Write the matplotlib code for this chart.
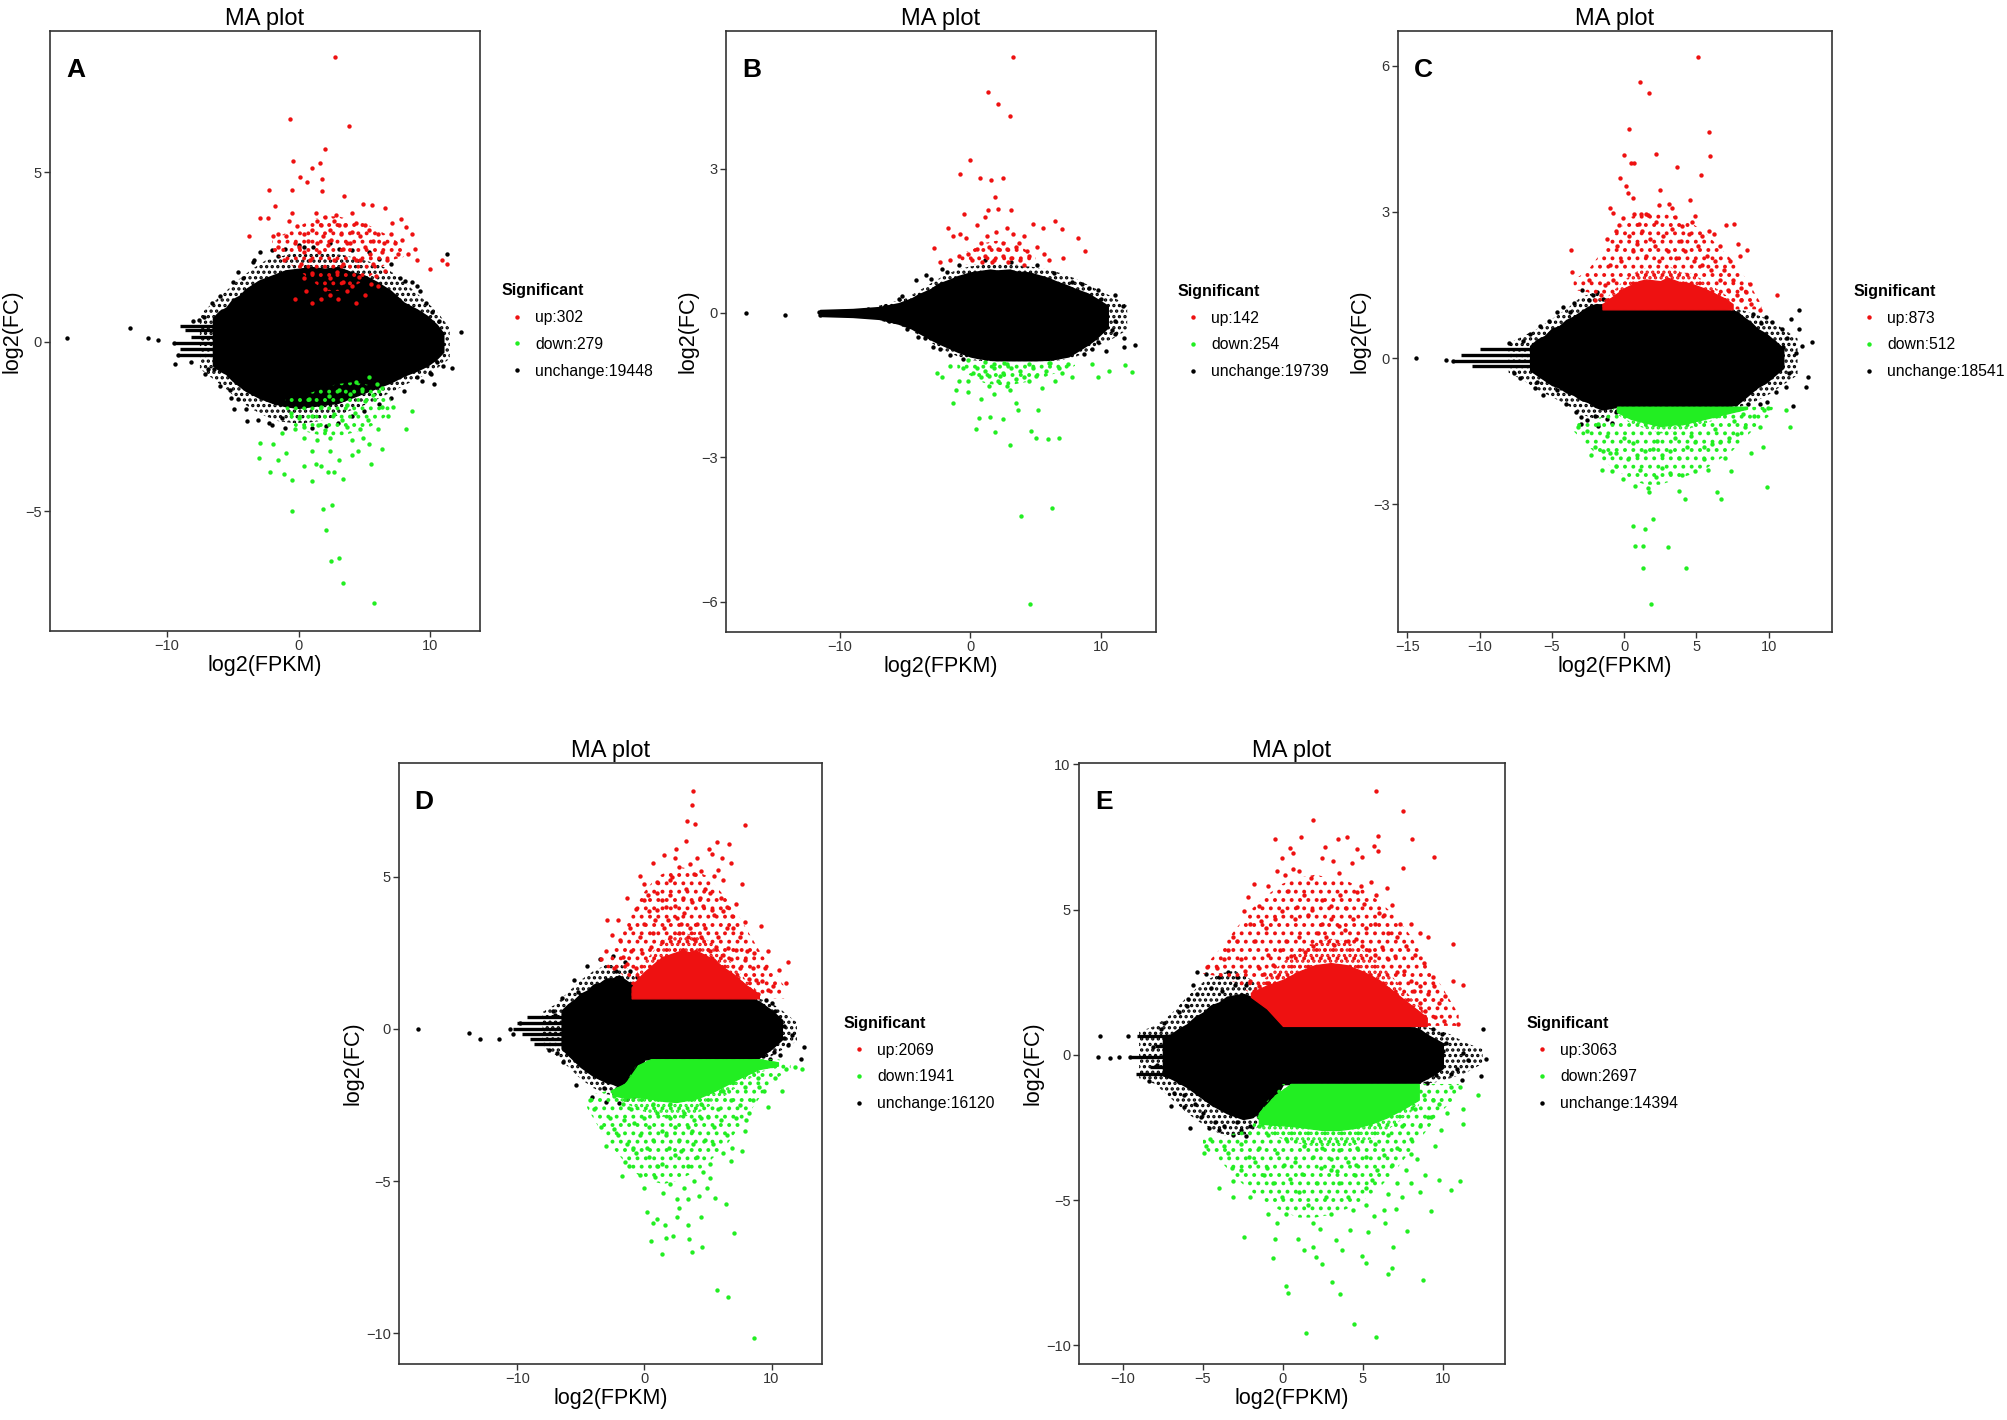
import matplotlib
matplotlib.use("Agg")
import matplotlib.pyplot as plt
from matplotlib.lines import Line2D
from matplotlib.patches import Polygon
import numpy as np

plt.rcParams['font.family'] = ['Liberation Sans', 'DejaVu Sans']
plt.rcParams['hatch.linewidth'] = 1.6

RED = '#ee1111'
GREEN = '#22ee22'
BLACK = '#000000'
W, H = 2008, 1420

# ---------------------------------------------------------------- panel A
A_counts = [302, 279, 19448]
A_xlim = (-18.9, 13.8)
A_ylim = (-8.54, 9.17)
A_xticks = [-10, 0, 10]
A_yticks = [-5, 0, 5]
# dense black core (x, upper edge, lower edge)
A_core_x = [-6.5, -6, -5.5, -5, -4.5, -4, -3, -2, -1, 0, 1, 2, 3, 4, 5, 6, 7, 8, 9, 9.8, 10.5, 11]
A_core_top = [0.7, 0.9, 1.0, 1.25, 1.35, 1.55, 1.8, 1.95, 2.1, 2.15, 2.2, 2.15, 2.2, 2.05, 1.95, 1.75, 1.5, 1.15, 0.95, 0.75, 0.5, 0.25]
A_core_bot = [-0.7, -0.85, -0.95, -1.15, -1.3, -1.45, -1.65, -1.8, -1.9, -1.95, -1.9, -1.85, -1.8, -1.65, -1.5, -1.35, -1.2, -1.0, -0.85, -0.7, -0.5, -0.3]
# looser fringe of the same groups (x, upper edge, lower edge)
A_black_halo = ([-7.5, -6.5, -5.5, -4.5, -3.5, -2.5, -1.5, -0.5, 0.5, 1.5, 2.5, 3.5, 4.5, 5.5, 6.5, 7.5, 8.5, 9.5, 10.5, 11.5],
                [0.8, 1.15, 1.5, 1.85, 2.15, 2.4, 2.5, 2.6, 2.6, 2.65, 2.6, 2.55, 2.45, 2.35, 2.2, 1.95, 1.6, 1.25, 0.9, 0.4],
                [-0.8, -1.1, -1.4, -1.75, -2.0, -2.2, -2.35, -2.4, -2.4, -2.35, -2.25, -2.1, -1.95, -1.8, -1.6, -1.4, -1.2, -1.0, -0.8, -0.5])
A_red_halo = ([-2, -1, 0, 1, 2, 3, 4, 5, 6, 7, 8],
              [3.0, 3.2, 3.4, 3.6, 3.7, 3.7, 3.6, 3.5, 3.3, 3.1, 2.8],
              [2.6, 2.4, 2.1, 1.8, 1.5, 1.5, 1.6, 1.8, 2.1, 2.4, 2.5])
A_green_halo = ([-1, 0, 1, 2, 3, 4, 5, 6, 7],
                [-1.7, -1.6, -1.5, -1.35, -1.25, -1.2, -1.25, -1.35, -1.6],
                [-2.3, -2.6, -2.7, -2.8, -2.8, -2.7, -2.6, -2.4, -2.1])
# horizontal runs of low-count genes (y, x start, x end)
A_streaks = [(0.46, -9.0, -6.2), (0.33, -8.6, -6.2), (0.15, -8.2, -6.2),
             (-0.05, -9.5, -6.2), (-0.22, -9.0, -6.2), (-0.38, -9.2, -6.2)]
A_black = [(-17.6, 0.1), (-12.85, 0.4), (-11.46, 0.1), (-10.7, 0.04), (-9.5, -0.03), (-9.37, -0.66),
           (-9.2, -0.4), (12.38, 0.29), (11.66, -0.77), (11.26, 2.6), (10.0, -0.92), (10.33, -1.24),
           (11.0, -0.73), (10.83, 0.1), (10.66, 0.61), (-2.91, 2.66), (-3.41, 2.4), (-4.24, 1.89),
           (-4.9, -2.0), (-3.9, -2.33), (-2.25, -2.39), (-1.26, -2.26), (0.4, -1.94), (-6.56, 1.13),
           (-6.4, -0.8), (-7.2, 0.74), (-6.9, -0.8), (-5.23, -1.43), (-4.57, -1.69), (7.0, 2.28),
           (7.68, 1.89), (9.0, 1.64), (9.67, 1.13), (10.17, 0.87), (9.5, -0.41), (10.5, -0.6),
           (9.0, -1.05), (5.36, 2.66), (0.4, 2.79), (-1.59, 2.53), (2.38, 2.92), (-2.0, 2.7),
           (-1.0, 2.75), (0.0, 2.85), (1.1, 2.8), (3.1, 2.75), (4.1, 2.7), (6.1, 2.45),
           (8.1, 1.8), (9.2, 1.5), (-5.0, 1.75), (-6.0, 1.35), (-7.6, 0.65),
           (-7.1, -0.95), (-6.0, -1.3), (-5.1, -1.65), (-4.0, -2.0), (-3.1, -2.3), (-2.0, -2.45),
           (-1.0, -2.55), (1.0, -2.55), (2.1, -2.5), (3.0, -2.4), (4.1, -2.2),
           (5.0, -2.05), (6.1, -1.85), (7.0, -1.65), (8.0, -1.45), (9.4, -1.15), (10.1, -0.95),
           (-3.5, 2.35), (-4.6, 2.05), (8.6, 1.75), (9.8, 0.55), (-8.0, 0.6), (-8.2, -0.6)]
A_red = [(2.81, 8.41), (-0.66, 6.56), (3.87, 6.37), (1.99, 5.7), (-0.43, 5.32), (0.99, 5.13),
         (1.62, 5.26), (0.1, 4.87), (0.66, 4.71), (1.75, 4.8), (1.75, 4.45), (-2.22, 4.49),
         (-0.46, 4.48), (3.48, 4.31), (-1.79, 4.0), (4.87, 4.07), (5.6, 4.04), (6.59, 3.95),
         (-2.91, 3.64), (-2.35, 3.64), (-0.5, 3.79), (7.78, 3.62), (8.18, 3.39), (-3.74, 3.11),
         (8.61, 3.17), (7.12, 3.5), (8.84, 2.75), (9.0, 2.4), (10.0, 2.15), (10.93, 2.4), (11.3, 2.28),
         (-1.59, 3.17), (-0.93, 3.11), (-0.26, 2.92), (0.07, 2.79), (0.4, 3.17), (0.73, 2.98),
         (1.06, 3.3), (1.39, 3.55), (1.72, 3.43), (1.89, 3.11), (2.22, 2.85), (2.38, 3.3),
         (2.72, 3.55), (2.88, 3.75), (3.21, 3.17), (3.54, 3.43), (3.7, 2.92), (4.04, 3.24),
         (4.37, 3.49), (4.7, 3.11), (5.03, 2.79), (5.36, 3.3), (5.7, 2.98), (6.03, 3.17),
         (6.36, 2.66), (6.69, 2.4), (7.02, 3.17), (7.35, 2.92), (0.89, 2.4), (1.56, 2.66),
         (2.72, 2.4), (3.38, 2.28), (4.37, 2.4), (5.7, 2.28), (0.4, 1.89), (1.06, 2.02),
         (2.38, 1.89), (3.38, 1.76), (4.04, 1.64), (1.72, 1.25), (2.38, 1.38), (3.7, 1.51),
         (5.03, 1.38), (6.03, 1.64), (-0.26, 1.25), (1.06, 1.13), (-1.09, 2.4), (-1.59, 2.79),
         (-1.92, 3.11), (-0.76, 3.55), (0.4, 2.66), (4.7, 2.4), (2.05, 3.68), (4.04, 3.81),
         (3.05, 3.43), (1.39, 2.92), (5.03, 3.43), (2.5, 3.0), (3.9, 2.9), (6.5, 2.9), (7.6, 2.6),
         (5.4, 2.6), (1.3, 3.8), (3.4, 2.75), (-0.1, 3.4), (7.9, 3.0), (8.3, 2.6), (0.2, 2.3),
         (2.9, 2.05), (4.6, 1.9), (5.9, 1.95), (6.6, 2.1), (3.0, 1.25), (4.4, 1.15), (0.6, 1.5),
         (2.0, 1.55), (5.5, 1.7)]
A_green = [(8.6, -2.05), (8.18, -2.58), (7.19, -1.94), (6.36, -1.94), (6.36, -3.16), (5.53, -3.6),
           (5.36, -3.03), (4.54, -3.22), (4.04, -2.9), (3.38, -4.05), (2.72, -3.86), (2.22, -3.86),
           (1.72, -3.67), (0.99, -4.12), (1.32, -3.6), (0.4, -3.67), (-0.53, -4.09), (-1.09, -3.9),
           (-1.59, -3.48), (-0.93, -3.29), (-1.92, -3.03), (-2.19, -3.86), (-2.91, -2.99),
           (-2.98, -3.44), (-0.5, -5.01), (1.89, -4.95), (2.55, -4.82), (2.12, -5.55), (3.05, -6.39),
           (2.45, -6.48), (3.38, -7.12), (5.76, -7.72), (0.4, -2.84), (2.38, -2.84), (-0.26, -2.58),
           (3.7, -2.52), (4.7, -2.58), (6.03, -2.58), (1.06, -2.2), (2.72, -2.14), (1.72, -1.94),
           (3.7, -1.88), (5.03, -1.75), (5.7, -1.56), (6.36, -1.37), (3.05, -1.43), (4.37, -1.18),
           (5.36, -1.05), (0.4, -2.52), (0.07, -2.26), (-1.26, -2.71), (1.06, -3.22), (4.04, -3.35),
           (3.05, -3.48), (2.38, -3.22), (1.5, -2.45), (2.0, -2.6), (3.3, -2.3), (4.3, -2.1),
           (5.3, -2.3), (6.8, -2.2), (0.8, -1.7), (2.3, -1.6), (3.9, -1.55), (-0.6, -2.1),
           (1.4, -2.9), (4.9, -2.85), (6.0, -1.25), (4.8, -1.4)]

# ---------------------------------------------------------------- panel B
B_counts = [142, 254, 19739]
B_xlim = (-18.7, 14.2)
B_ylim = (-6.63, 5.86)
B_xticks = [-10, 0, 10]
B_yticks = [-6, -3, 0, 3]
B_core_x = [-11.5, -9, -7, -5.5, -4.5, -4, -3, -2.5, -1.5, -1, 0, 0.5, 1.5, 2, 3, 3.5, 4.5, 5, 6, 6.5, 7.5, 8, 9, 9.5, 10.5]
B_core_top = [0.06, 0.08, 0.12, 0.2, 0.3, 0.38, 0.5, 0.6, 0.7, 0.76, 0.84, 0.86, 0.9, 0.88, 0.9, 0.86, 0.84, 0.8, 0.72, 0.66, 0.56, 0.5, 0.4, 0.32, 0.15]
B_core_bot = [-0.06, -0.08, -0.12, -0.22, -0.32, -0.4, -0.55, -0.62, -0.74, -0.8, -0.9, -0.93, -0.97, -0.98, -0.98, -0.98, -0.98, -0.98, -0.97, -0.95, -0.9, -0.82, -0.65, -0.55, -0.3]
B_black_halo = ([-7, -5, -4, -3, -2, -1, 0, 1, 2, 3, 4, 5, 6, 7, 8, 9, 10, 11, 12],
                [0.15, 0.3, 0.45, 0.62, 0.78, 0.9, 0.97, 1.0, 1.0, 1.0, 0.98, 0.95, 0.9, 0.82, 0.72, 0.58, 0.45, 0.32, 0.15],
                [-0.15, -0.3, -0.45, -0.62, -0.78, -0.9, -0.98, -1.0, -1.0, -1.0, -1.0, -1.0, -1.0, -0.98, -0.92, -0.8, -0.65, -0.52, -0.35])
B_red_halo = ([-1, 0, 1, 2, 3, 4, 5],
              [1.2, 1.3, 1.45, 1.5, 1.45, 1.35, 1.2],
              [1.02, 1.0, 1.0, 1.0, 1.0, 1.0, 1.02])
B_green_halo = ([-1, 0, 1, 2, 3, 4, 5, 6, 7, 8],
                [-1.0, -1.0, -1.0, -1.0, -1.0, -1.0, -1.0, -1.0, -1.0, -1.0],
                [-1.15, -1.3, -1.45, -1.5, -1.5, -1.45, -1.4, -1.3, -1.2, -1.1])
B_streaks = []
B_black = [(-17.2, 0.0), (-14.15, -0.05), (-11.6, 0.02), (-11.5, -0.05), (11.7, 0.15), (12.6, -0.66),
           (11.76, -0.52), (11.1, -0.43), (-4.2, 0.69), (-3.36, 0.78), (-5.5, 0.29), (-2.2, 0.92),
           (-0.86, 1.0), (1.13, 1.1), (3.1, 1.05), (5.1, 1.0), (6.4, 0.83), (7.8, 0.65), (9.1, 0.51),
           (9.8, 0.47), (11.1, 0.38), (10.4, 0.0), (11.1, -0.16), (11.76, -0.7), (10.4, -0.79),
           (9.8, -0.61), (-3.5, -0.52), (-2.86, -0.7), (-1.53, -0.88), (-4.85, -0.34), (-6.2, -0.16),
           (-6.5, 0.15), (-7.8, 0.09), (-3.0, 0.7), (-1.8, 0.85), (8.5, 0.6), (10.0, 0.3),
           (-2.3, -0.75), (-0.6, -0.95), (8.7, -0.85), (9.3, -0.75), (10.8, -0.35), (-4.0, -0.5),
           (-5.2, 0.35)]
B_red = [(3.29, 5.32), (1.33, 4.59), (2.13, 4.34), (3.02, 4.09), (0.0, 3.17), (-0.76, 2.89),
         (0.73, 2.8), (1.6, 2.76), (2.49, 2.8), (1.89, 2.41), (2.13, 2.17), (3.09, 2.14), (1.33, 2.14),
         (-0.47, 2.05), (-1.33, 1.59), (-1.69, 1.77), (-2.79, 1.35), (-2.33, 1.05), (-0.83, 1.64),
         (-0.37, 1.55), (0.47, 1.82), (1.13, 2.0), (1.96, 1.68), (2.79, 1.77), (3.29, 1.64),
         (4.12, 1.59), (4.78, 1.84), (5.55, 1.76), (6.51, 1.91), (7.0, 1.75), (8.27, 1.55),
         (8.77, 1.28), (7.1, 1.14), (5.6, 1.23), (5.1, 1.37), (4.45, 1.19), (3.8, 1.1), (3.1, 1.14),
         (2.46, 1.19), (1.8, 1.1), (1.13, 1.19), (0.47, 1.32), (-0.2, 1.23), (-0.86, 1.19),
         (-1.53, 1.1), (0.8, 1.46), (1.46, 1.37), (2.13, 1.32), (2.79, 1.32), (3.46, 1.37),
         (4.3, 1.28), (2.46, 1.46), (1.3, 1.59), (1.63, 1.05), (4.12, 1.0), (0.13, 1.1), (6.0, 1.1),
         (3.7, 1.45), (2.9, 1.05), (0.9, 1.05)]
B_green = [(4.55, -6.04), (3.89, -4.22), (6.21, -4.05), (3.02, -2.75), (5.0, -2.59), (5.95, -2.62),
           (6.78, -2.59), (4.65, -2.46), (1.86, -2.48), (0.4, -2.41), (0.63, -2.19), (1.53, -2.17),
           (2.46, -2.21), (3.46, -1.87), (3.62, -2.01), (5.2, -2.01), (-1.3, -1.87), (-0.2, -1.65),
           (-1.13, -1.6), (-2.19, -1.33), (-2.52, -1.24), (-0.86, -1.42), (-0.2, -1.42), (0.8, -1.33),
           (1.46, -1.51), (2.13, -1.42), (2.79, -1.51), (3.46, -1.38), (4.45, -1.42), (5.45, -1.56),
           (6.45, -1.42), (7.77, -1.33), (9.27, -1.06), (9.77, -1.33), (10.6, -1.2), (11.83, -1.08),
           (12.36, -1.23), (0.47, -1.15), (1.13, -1.2), (1.8, -1.15), (2.46, -1.24), (3.12, -1.15),
           (3.79, -1.2), (4.78, -1.15), (5.78, -1.2), (6.78, -1.15), (-0.53, -1.15), (-1.53, -1.11),
           (1.13, -1.02), (2.79, -1.06), (4.45, -1.06), (6.11, -1.05), (7.44, -1.06), (-0.2, -0.97),
           (1.8, -1.06), (4.12, -1.33), (1.8, -1.69), (0.8, -1.78), (2.3, -1.3), (3.0, -1.6),
           (5.0, -1.3), (6.0, -1.05), (7.0, -1.25), (0.2, -1.25), (1.4, -1.3), (2.6, -1.05)]

# ---------------------------------------------------------------- panel C
C_counts = [873, 512, 18541]
C_xlim = (-15.65, 14.38)
C_ylim = (-5.62, 6.71)
C_xticks = [-15, -10, -5, 0, 5, 10]
C_yticks = [-3, 0, 3, 6]
C_core_x = [-6.5, -6, -5.5, -5, -4.5, -4, -3.5, -3, -2.5, -2, -1.5, -0.5, 1, 3, 5, 7, 7.8, 8.2, 8.8, 9.2, 9.8, 10.2, 11]
C_core_top = [0.25, 0.38, 0.45, 0.6, 0.65, 0.78, 0.85, 0.95, 1.05, 1.1, 1.1, 1.0, 1.0, 1.0, 1.0, 1.0, 0.95, 0.85, 0.72, 0.6, 0.5, 0.4, 0.2]
C_core_bot = [-0.25, -0.35, -0.45, -0.55, -0.6, -0.7, -0.75, -0.85, -0.9, -1.0, -1.05, -1.0, -1.0, -1.0, -1.0, -1.0, -0.95, -0.85, -0.7, -0.6, -0.5, -0.4, -0.2]
C_black_halo = ([-8, -7, -6, -5, -4, -3, -2, -1, 0, 8, 9, 10, 11, 12],
                [0.3, 0.45, 0.6, 0.8, 1.0, 1.25, 1.35, 1.2, 1.0, 1.0, 0.9, 0.8, 0.6, 0.4],
                [-0.3, -0.45, -0.65, -0.8, -0.95, -1.15, -1.25, -1.2, -1.0, -1.0, -0.9, -0.75, -0.55, -0.35])
C_red_core = ([-1.5, -1, 0, 1, 1.5, 2.5, 3, 4, 4.5, 5.5, 6, 7, 7.5],
              [1.15, 1.3, 1.6, 1.8, 1.85, 1.8, 1.9, 1.75, 1.75, 1.6, 1.5, 1.3, 1.15])
C_green_core = ([-0.5, 0.5, 1, 2, 2.5, 3.5, 4, 5, 5.5, 6.5, 7, 8, 8.5],
                [-1.15, -1.35, -1.4, -1.5, -1.55, -1.5, -1.5, -1.4, -1.35, -1.25, -1.2, -1.1, -1.05])
C_red_halo = ([-3.5, -2.5, -1.5, -0.5, 0.5, 1.5, 2.5, 3.5, 4.5, 5.5, 6.5, 7.5, 8.5, 9.5],
              [1.6, 1.8, 2.2, 2.6, 2.9, 3.0, 3.0, 2.9, 2.8, 2.6, 2.3, 2.0, 1.6, 1.1],
              [1.4, 1.35, 1.15, 1.0, 1.0, 1.0, 1.0, 1.0, 1.0, 1.0, 1.0, 1.0, 1.0, 1.0])
C_green_halo = ([-3.5, -2.5, -1.5, -0.5, 0.5, 1.5, 2.5, 3.5, 4.5, 5.5, 6.5, 7.5, 8.5, 9.5, 10.5],
                [-1.3, -1.3, -1.2, -1.0, -1.0, -1.0, -1.0, -1.0, -1.0, -1.0, -1.0, -1.0, -1.0, -1.0, -1.0],
                [-1.5, -1.8, -2.1, -2.3, -2.5, -2.6, -2.6, -2.5, -2.4, -2.3, -2.1, -1.9, -1.6, -1.3, -1.1])
C_streaks = [(0.19, -10.0, -6.0), (0.07, -11.3, -6.0), (-0.05, -11.8, -6.0), (-0.17, -10.5, -6.0)]
C_black = [(-14.4, 0.0), (-11.85, -0.05), (-12.3, -0.04), (12.1, 0.99), (13.0, 0.32), (12.7, -0.39),
           (12.57, -0.6), (11.7, -0.99), (12.1, 0.59), (11.56, 0.81), (11.27, 0.41), (11.0, 0.23),
           (10.4, 0.32), (10.7, -0.12), (10.1, -0.39), (11.4, -0.3), (11.9, 0.1), (12.3, 0.25),
           (10.9, 0.6), (10.2, 0.75), (9.8, 0.85), (11.2, -0.6), (10.5, -0.7), (9.9, -0.9),
           (9.4, -0.95), (-2.9, 1.39), (-2.17, 1.3), (-3.47, 1.12), (-1.45, 1.21), (-1.16, 1.03),
           (-3.76, 0.94), (-2.6, -1.28), (-2.02, -1.19), (-1.16, -1.24), (-0.58, -1.1), (-0.87, -1.33),
           (-3.32, -1.1), (-4.62, -0.66), (-6.2, -0.61), (-5.2, 0.77), (-4.62, 0.94), (-6.5, 0.5),
           (-5.8, 0.65), (-7.0, 0.35), (-7.2, -0.4), (-5.6, -0.75), (-4.0, -0.95), (-3.0, -1.2),
           (-4.2, 1.05), (-3.0, -1.35), (8.6, -0.95), (8.9, 0.9), (9.5, 0.72), (-1.8, -1.4),
           (-2.4, 1.2), (-1.9, 1.35), (-6.0, -0.5), (-8.0, 0.3), (-7.6, -0.3)]
C_red = [(5.12, 6.18), (1.1, 5.66), (1.73, 5.44), (0.32, 4.7), (5.84, 4.64), (5.95, 4.15), (-0.03, 4.17),
         (2.2, 4.19), (0.49, 4.0), (0.66, 4.0), (3.67, 3.91), (5.35, 3.75), (-0.32, 3.69), (0.14, 3.53),
         (2.51, 3.44), (0.29, 3.39), (0.64, 3.28), (4.57, 3.24), (3.09, 3.17), (3.32, 3.08),
         (-0.95, 3.08), (-0.78, 2.97), (1.53, 2.95), (2.4, 3.13), (4.91, 2.92), (4.71, 2.8),
         (-0.06, 2.88), (0.66, 2.95), (1.16, 2.95), (1.65, 2.93), (-0.38, 2.72), (7.02, 2.72),
         (7.6, 2.75), (6.21, 2.55), (5.4, 2.5), (-3.67, 2.22), (-3.61, 1.76), (7.89, 2.34),
         (8.53, 2.22), (7.98, 2.1), (8.7, 1.52), (8.09, 1.43), (9.39, 0.99), (10.6, 1.3),
         (-1.3, 1.5), (-1.0, 1.9), (-0.5, 2.3), (-0.2, 2.0), (0.3, 2.5), (0.6, 2.2), (0.9, 2.35),
         (1.2, 2.6), (1.5, 2.1), (1.8, 2.45), (2.1, 2.3), (2.4, 2.0), (2.7, 2.5), (3.0, 2.2),
         (3.3, 2.65), (3.6, 2.05), (3.9, 2.4), (4.2, 2.2), (4.5, 2.55), (4.8, 2.0), (5.1, 2.3),
         (5.4, 1.9), (5.7, 2.1), (6.0, 1.8), (6.3, 2.0), (6.6, 1.6), (6.9, 1.8), (7.2, 1.4),
         (7.5, 1.6), (7.8, 1.3), (8.1, 1.2), (8.4, 1.35), (-1.6, 1.3), (-2.0, 1.2), (-0.8, 1.6),
         (2.2, 2.8), (1.0, 2.75), (4.0, 2.7), (-1.2, 2.45), (-0.6, 2.6), (6.6, 2.3), (7.3, 2.0),
         (8.8, 1.1), (-2.4, 1.6), (5.9, 2.6), (3.5, 2.9)]
C_green = [(1.88, -5.04), (1.33, -4.31), (4.28, -4.31), (0.72, -3.86), (1.33, -3.85), (3.03, -3.88),
           (0.58, -3.45), (1.45, -3.51), (2.02, -3.31), (4.19, -2.89), (3.76, -2.73), (1.73, -2.75),
           (1.68, -2.66), (0.72, -2.62), (-0.06, -2.48), (-0.87, -2.31), (-1.5, -2.29), (-0.58, -2.22),
           (6.45, -2.75), (6.71, -2.89), (9.88, -2.64), (7.37, -2.31), (8.76, -1.95), (9.6, -1.82),
           (9.39, -1.42), (9.97, -1.02), (11.2, -1.06), (11.47, -1.42), (9.68, -1.06), (-3.18, -1.42),
           (-2.6, -1.5), (-2.31, -1.99), (-2.02, -1.82), (-1.45, -1.91), (-0.58, -1.95), (0.29, -2.08),
           (0.87, -1.99), (1.45, -1.91), (2.02, -1.86), (2.6, -1.99), (3.18, -1.91), (3.76, -2.04),
           (4.34, -1.82), (4.91, -1.73), (5.49, -1.82), (6.07, -1.77), (6.65, -1.73), (7.23, -1.64),
           (7.8, -1.55), (8.38, -1.42), (8.96, -1.19), (2.6, -2.26), (3.18, -2.35), (5.49, -2.08),
           (4.91, -2.31), (-1.0, -1.95), (-1.8, -1.35), (-1.2, -1.6), (0.0, -1.65), (0.6, -1.75),
           (2.3, -1.7), (3.5, -1.65), (4.6, -1.6), (6.3, -1.45), (7.6, -1.3), (8.2, -1.15),
           (1.1, -2.3), (2.2, -2.45), (4.0, -2.4), (5.8, -2.3), (7.0, -2.05)]

# ---------------------------------------------------------------- panel D
D_counts = [2069, 1941, 16120]
D_xlim = (-19.3, 13.97)
D_ylim = (-11.01, 8.73)
D_xticks = [-10, 0, 10]
D_yticks = [-10, -5, 0, 5]
D_core_x = [-6.5, -6, -5.5, -5, -4.5, -4, -3.5, -3, -2.5, -2, -1.5, -1, -0.5, 0, 2, 4, 6, 8, 8.5, 9, 9.5, 10, 10.8]
D_core_top = [0.6, 0.8, 0.95, 1.15, 1.25, 1.45, 1.5, 1.65, 1.65, 1.75, 1.6, 1.45, 1.2, 1.0, 1.0, 1.0, 1.0, 1.0, 0.98, 0.9, 0.75, 0.6, 0.3]
D_core_bot = [-0.65, -0.85, -1.05, -1.25, -1.4, -1.55, -1.65, -1.75, -1.8, -1.9, -1.9, -1.75, -1.5, -1.0, -1.0, -1.0, -1.0, -1.0, -0.98, -0.95, -0.8, -0.65, -0.35]
D_black_halo = ([-8, -7, -6, -5, -4, -3, -2, -1, 0, 9, 10, 11, 12],
                [0.55, 0.8, 1.2, 1.6, 1.9, 2.1, 2.15, 1.9, 1.0, 1.0, 0.85, 0.55, 0.2],
                [-0.6, -0.85, -1.25, -1.65, -1.95, -2.15, -2.2, -2.1, -1.0, -1.0, -0.9, -0.65, -0.4])
D_red_core = ([-1, -0.5, 0, 1, 1.5, 2, 3, 3.5, 4, 5, 5.5, 6, 7, 8, 9],
              [1.5, 1.9, 2.2, 2.7, 2.9, 3.0, 3.2, 3.1, 3.2, 2.9, 2.8, 2.5, 2.1, 1.6, 1.2])
D_red_halo = ([-3, -2, -1, 0, 1, 2, 3, 4, 5, 6, 7, 8, 9, 10, 11],
              [2.3, 3.0, 3.8, 4.5, 5.0, 5.2, 5.3, 5.2, 5.0, 4.5, 4.0, 3.3, 2.6, 2.0, 1.4],
              [2.0, 1.9, 1.4, 1.0, 1.0, 1.0, 1.0, 1.0, 1.0, 1.0, 1.0, 1.0, 1.0, 1.0, 1.0])
D_green_core = ([-2.5, -1.5, -0.5, 0.5, 1.5, 2.5, 3, 4, 4.5, 5.5, 6, 7.5, 9, 10.5],
                [-2.25, -2.45, -2.65, -2.8, -2.9, -2.95, -2.9, -2.8, -2.7, -2.45, -2.3, -1.85, -1.45, -1.25])
D_green_top = [-2.0, -1.8, -1.2, -1.0, -1.0, -1.0, -1.0, -1.0, -1.0, -1.0, -1.0, -1.0, -1.0, -1.1]
D_green_halo = ([-4.5, -3.5, -2.5, -1.5, -0.5, 0.5, 1.5, 2.5, 3.5, 4.5, 5.5, 6.5, 7.5, 8.5, 9.5, 10.5, 11.5],
                [-2.2, -2.1, -2.0, -1.8, -1.1, -1.0, -1.0, -1.0, -1.0, -1.0, -1.0, -1.0, -1.0, -1.0, -1.0, -1.0, -1.1],
                [-2.6, -3.3, -3.9, -4.4, -4.8, -5.0, -5.1, -5.0, -4.8, -4.6, -4.2, -3.8, -3.2, -2.6, -2.0, -1.6, -1.3])
D_streaks = [(0.38, -9.2, -6.5), (0.19, -10.0, -6.5), (0.0, -10.3, -6.5),
             (-0.17, -9.6, -6.5), (-0.35, -9.0, -6.5), (-0.49, -8.7, -6.5)]
D_black = [(-17.8, 0.0), (-13.8, -0.14), (-12.95, -0.35), (-11.4, -0.35), (-10.6, 0.0), (-10.3, -0.17),
           (-9.8, 0.2), (12.57, -0.6), (12.33, -1.0), (11.3, -0.53), (10.96, -0.3), (10.6, 0.26),
           (10.3, 0.6), (10.0, 0.85), (9.6, 0.95), (9.3, -0.9), (10.2, -0.75), (9.9, -1.0), (11.0, 0.1),
           (11.6, -0.2), (10.7, -0.85), (-6.5, 1.0), (-5.5, 1.6), (-4.5, 2.05),
           (-3.5, 2.3), (-2.5, 2.4), (-1.5, 2.2), (-6.4, -1.1),
           (-5.38, -1.86), (-4.1, -2.25), (-3.0, -2.4),
           (-2.0, -2.45), (-1.4, -2.3), (-7.2, 0.6), (-7.5, -0.7), (-6.9, -0.8),
           (-1.1, 1.9), (-0.6, 1.7), (-0.8, -2.2), (-0.3, -1.8),
           (3.1, 2.14), (4.6, 1.78), (2.2, -1.6), (5.0, -1.3), (-5.2, 1.2), (-3.2, -1.95),
           (-2.2, 1.9), (-7.0, 0.45)]
D_red = [(3.84, 7.82), (3.77, 7.34), (3.32, 6.84), (4.0, 6.73), (7.95, 6.69), (3.25, 6.18), (2.47, 5.92),
         (5.68, 6.14), (5.07, 5.92), (6.68, 6.07), (1.54, 5.72), (5.3, 5.75), (6.1, 5.61), (0.68, 5.46),
         (2.74, 5.32), (4.45, 5.17), (3.94, 5.1), (-0.34, 5.03), (0.0, 4.74), (1.03, 4.81), (2.05, 4.88),
         (3.25, 4.6), (5.14, 4.45), (7.64, 4.74), (7.19, 4.09), (6.16, 3.87), (1.37, 4.23), (0.34, 3.87),
         (-0.68, 3.95), (-1.37, 4.31), (-2.05, 3.58), (-2.91, 3.58), (-2.57, 3.08), (-2.98, 2.57),
         (-1.88, 2.93), (-3.42, 2.28), (7.88, 3.51), (9.14, 3.37), (9.76, 2.57), (10.6, 1.92),
         (11.3, 2.21), (11.13, 1.49), (9.76, 1.27), (8.9, 1.13), (8.2, 1.63), (8.05, 2.57), (7.53, 3.0),
         (6.5, 3.3), (5.8, 3.0), (5.48, 3.73), (4.62, 4.02), (4.1, 3.44), (3.08, 3.8), (2.4, 4.02),
         (1.88, 3.58), (0.68, 3.15), (0.0, 3.44), (-0.34, 3.0), (-1.03, 2.57), (-1.37, 2.14),
         (-1.71, 2.36), (-0.68, 2.0), (1.37, 2.86), (2.05, 3.0), (2.74, 3.15), (3.42, 3.0), (4.45, 3.0),
         (5.14, 2.57), (6.16, 2.43), (6.85, 2.28), (7.53, 2.0), (8.56, 2.0), (9.25, 1.56), (6.5, 1.71),
         (0.86, 3.58), (1.54, 3.3), (3.77, 4.16), (4.79, 4.6), (2.05, 4.38), (1.03, 4.45), (0.0, 4.23),
         (5.48, 5.03), (6.16, 4.88), (4.1, 5.61), (2.4, 5.61), (6.85, 5.46), (2.9, 3.45), (3.6, 3.3),
         (4.8, 3.3), (5.3, 3.9), (6.9, 3.7), (7.2, 2.6), (8.6, 2.5), (9.5, 2.0), (10.1, 1.4),
         (-0.2, 2.5), (0.5, 2.7), (1.0, 3.9), (2.6, 3.65), (3.9, 2.95), (5.6, 2.7), (6.6, 2.65),
         (7.9, 2.25), (8.8, 1.6), (-2.4, 2.0), (-1.1, 3.3), (0.3, 4.4), (1.7, 4.0), (4.4, 4.3),
         (6.0, 4.3), (6.5, 4.0), (7.0, 3.3), (3.0, 4.3), (3.6, 5.4), (2.2, 5.0), (5.8, 5.2)]
D_green = [(8.63, -10.14), (5.68, -8.58), (6.61, -8.8), (1.37, -7.4), (0.51, -6.97), (1.71, -6.86),
           (2.23, -6.82), (3.49, -6.92), (3.77, -7.33), (4.52, -7.18), (7.05, -6.71), (0.68, -6.39),
           (1.64, -6.46), (2.57, -6.17), (3.42, -6.46), (0.17, -6.03), (0.96, -6.24), (2.74, -5.88),
           (4.45, -6.17), (5.58, -5.56), (6.4, -5.77), (4.9, -5.23), (3.94, -5.01), (3.08, -5.23),
           (2.05, -5.09), (0.86, -4.87), (0.0, -5.23), (-0.34, -4.8), (-1.2, -4.51), (-1.78, -4.84),
           (-1.54, -4.36), (-0.68, -4.08), (0.34, -4.22), (1.37, -4.44), (2.4, -4.15), (3.42, -4.51),
           (4.1, -4.22), (5.14, -4.44), (6.16, -4.08), (6.78, -4.34), (7.67, -4.0), (7.88, -3.35),
           (-2.98, -3.86), (-3.42, -3.21), (-3.94, -2.63), (-4.28, -2.34), (-2.74, -2.92), (-2.05, -3.5),
           (-1.37, -3.79), (-0.34, -3.5), (0.68, -3.64), (1.71, -3.5), (2.74, -3.64), (3.77, -3.35),
           (4.79, -3.64), (5.48, -3.21), (6.5, -3.5), (7.19, -2.92), (8.22, -2.77), (8.56, -2.34),
           (9.73, -2.56), (10.82, -2.05), (9.42, -2.05), (10.27, -1.62), (11.13, -1.33), (11.82, -1.26),
           (12.43, -1.33), (10.27, -1.19), (8.9, -1.62), (7.88, -1.91), (6.85, -2.34), (5.82, -2.63),
           (4.45, -2.92), (3.08, -2.77), (2.05, -2.92), (1.03, -2.77), (0.0, -2.92), (-1.03, -2.63),
           (-1.71, -2.48), (-2.4, -2.2), (0.34, -3.21), (1.37, -3.35), (2.4, -3.21), (3.42, -3.21),
           (4.45, -2.48), (6.16, -2.05), (2.05, -2.48), (0.68, -2.48), (-0.8, -3.1), (0.2, -3.9),
           (1.0, -4.5), (1.9, -3.9), (2.9, -4.0), (3.8, -3.8), (4.6, -4.7), (5.4, -3.8), (6.0, -3.0),
           (6.9, -3.9), (1.5, -5.4), (2.6, -5.6), (3.4, -5.6), (4.3, -5.5), (5.2, -4.9), (-0.9, -3.9),
           (-2.4, -3.3), (-1.6, -3.0), (3.9, -3.0), (5.0, -2.9), (7.5, -2.5), (8.0, -3.0), (9.0, -1.9)]

# ---------------------------------------------------------------- panel E
E_counts = [3063, 2697, 14394]
E_xlim = (-12.76, 13.9)
E_ylim = (-10.64, 10.05)
E_xticks = [-10, -5, 0, 5, 10]
E_yticks = [-10, -5, 0, 5, 10]
E_core_x = [-7.5, -7, -6.5, -6, -5.5, -5, -4.5, -4, -3.5, -3, -2.5, -2, -1.5, -1, -0.5, 0, 2, 4, 6, 8, 8.5, 9, 9.5, 10]
E_core_top = [0.65, 0.7, 0.9, 1.05, 1.3, 1.45, 1.7, 1.8, 2.0, 2.05, 2.1, 2.0, 1.8, 1.6, 1.3, 1.0, 1.0, 1.0, 1.0, 0.95, 0.9, 0.7, 0.55, 0.4]
E_core_bot = [-0.7, -0.8, -0.95, -1.1, -1.3, -1.5, -1.7, -1.85, -2.0, -2.1, -2.2, -2.15, -2.0, -1.8, -1.5, -1.0, -1.0, -1.0, -1.0, -1.0, -0.95, -0.8, -0.65, -0.45]
E_black_halo = ([-9, -8, -7, -6, -5, -4, -3, -2, -1, 0, 8.5, 9.5, 10.5, 11.5, 12.5],
                [0.8, 1.0, 1.4, 2.0, 2.5, 2.8, 2.9, 2.6, 2.0, 1.0, 1.0, 0.9, 0.7, 0.4, 0.2],
                [-0.8, -1.0, -1.5, -2.0, -2.4, -2.7, -2.8, -2.7, -2.2, -1.0, -1.0, -0.95, -0.8, -0.6, -0.3])
E_red_core = ([-2, -1, 0, 1, 2, 3, 4, 5, 6, 7, 8, 9],
              [2.2, 2.7, 3.2, 3.6, 3.9, 4.0, 3.9, 3.6, 3.2, 2.6, 2.0, 1.4])
E_red_core_bot = [2.0, 1.6, 1.0, 1.0, 1.0, 1.0, 1.0, 1.0, 1.0, 1.0, 1.0, 1.0]
E_red_halo = ([-5, -4, -3, -2, -1, 0, 1, 2, 3, 4, 5, 6, 7, 8, 9, 10, 11],
              [3.0, 3.6, 4.3, 5.0, 5.5, 5.9, 6.1, 6.2, 6.1, 6.0, 5.7, 5.3, 4.8, 4.1, 3.2, 2.3, 1.4],
              [2.8, 2.7, 2.5, 2.1, 1.6, 1.0, 1.0, 1.0, 1.0, 1.0, 1.0, 1.0, 1.0, 1.0, 1.0, 1.0, 1.0])
E_green_core = ([-1.5, -0.5, 0.5, 1.5, 2.5, 3.5, 4.5, 5.5, 6.5, 7.5, 8.5],
                [-2.5, -2.8, -3.0, -3.1, -3.2, -3.2, -3.1, -2.9, -2.6, -2.2, -1.75])
E_green_core_top = [-2.0, -1.4, -1.0, -1.0, -1.0, -1.0, -1.0, -1.0, -1.0, -1.0, -1.0]
E_green_halo = ([-5, -4, -3, -2, -1, 0, 1, 2, 3, 4, 5, 6, 7, 8, 9, 10, 11],
                [-2.9, -2.8, -2.7, -2.5, -1.6, -1.0, -1.0, -1.0, -1.0, -1.0, -1.0, -1.0, -1.0, -1.0, -1.0, -1.0, -1.0],
                [-3.2, -3.6, -4.2, -4.7, -5.1, -5.4, -5.6, -5.6, -5.5, -5.3, -5.0, -4.6, -4.0, -3.3, -2.6, -1.9, -1.4])
E_streaks = [(0.65, -9.1, -5.5), (-0.08, -9.5, -5.5), (-0.67, -9.2, -4.5), (0.3, -8.0, -5.5), (-0.4, -8.3, -5.5)]
E_black = [(-11.45, 0.65), (-11.56, -0.08), (-10.8, -0.1), (-10.25, -0.08), (-9.55, -0.08), (-9.7, 0.65),
           (-7.0, -1.77), (-5.8, -2.53), (-5.37, 2.85), (-4.8, 2.77), (-7.46, 1.1), (-8.16, 0.27),
           (-7.9, -0.33), (-6.5, -0.94), (-6.2, -1.39), (-5.5, -1.7), (-5.1, -2.15), (-4.26, -2.3),
           (-3.7, -2.45), (-3.15, -2.76), (-2.6, -2.6), (-2.03, -2.45), (-1.48, -2.15), (-4.0, 2.7),
           (-3.43, 2.85), (-2.87, 2.7), (-2.3, 2.4), (-1.75, 2.09), (-1.2, 1.79), (-0.64, 2.09),
           (-0.36, 1.48), (-6.5, 1.48), (-5.93, 1.94), (-5.65, 2.4), (-6.77, 0.58), (-7.05, -0.64),
           (12.5, 0.88), (12.7, -0.15), (12.37, -0.74), (11.3, 0.05), (11.2, -0.86), (10.5, -0.64),
           (10.2, 0.42), (9.95, 0.73), (9.4, 0.88), (10.9, -0.48), (11.6, -0.18), (-4.5, 2.3),
           (-3.0, 2.4), (-5.0, -2.0), (-4.0, -2.6), (-2.3, -2.8), (-6.0, 1.7), (-6.8, -1.3),
           (-7.6, 0.9), (-8.4, -0.9), (9.0, -0.95), (9.6, -0.7), (10.0, 0.15), (-1.0, -1.9),
           (-5.4, 2.1), (-3.8, 2.2), (-6.2, -1.8), (-4.6, -2.5), (-2.9, -2.3)]
E_red = [(5.85, 9.1), (7.52, 8.41), (1.87, 8.08), (-0.5, 7.42), (1.11, 7.5), (3.45, 7.44), (4.04, 7.5),
         (5.96, 7.52), (8.08, 7.44), (5.68, 7.2), (5.96, 7.02), (0.47, 7.12), (0.61, 6.94), (2.65, 7.17),
         (4.65, 7.09), (2.42, 6.79), (3.15, 6.67), (4.32, 6.61), (4.93, 6.82), (9.47, 6.83), (7.49, 6.45),
         (-0.08, 6.79), (0.61, 6.41), (1.03, 6.33), (0.14, 6.18), (-0.36, 6.33), (3.54, 6.26),
         (1.73, 6.08), (5.49, 5.95), (6.52, 5.73), (4.65, 5.61), (5.82, 5.5), (-1.81, 5.88), (-0.92, 5.8),
         (0.33, 5.65), (1.31, 5.5), (2.42, 5.35), (2.98, 5.12), (3.96, 5.05), (5.07, 5.2), (6.82, 5.15),
         (6.32, 4.82), (8.0, 4.52), (8.55, 4.21), (9.05, 4.06), (10.64, 3.83), (10.64, 2.55),
         (11.28, 2.42), (10.17, 2.02), (9.44, 2.39), (10.08, 1.18), (10.97, 1.06), (-2.17, 5.42),
         (-1.48, 5.12), (-2.45, 4.97), (-2.03, 4.52), (-3.15, 4.06), (-2.87, 3.91), (-3.43, 3.6),
         (-3.7, 3.3), (-4.12, 3.0), (-4.76, 3.03), (-2.6, 3.3), (-1.75, 3.91), (-1.06, 4.36), (-0.5, 4.67),
         (-0.08, 4.97), (0.75, 4.67), (1.59, 4.82), (2.42, 4.52), (2.98, 4.67), (3.54, 4.44), (4.37, 4.67),
         (5.21, 4.36), (5.77, 4.52), (6.6, 4.21), (7.16, 4.06), (7.72, 3.76), (8.27, 3.45), (8.83, 3.15),
         (9.39, 2.7), (9.8, 1.79), (9.1, 2.09), (8.55, 1.79), (-1.48, 3.0), (-0.92, 3.45), (0.19, 3.91),
         (1.03, 4.06), (1.87, 3.76), (2.7, 4.06), (4.1, 3.91), (4.93, 3.76), (5.77, 3.45), (6.6, 3.3),
         (7.16, 2.85), (7.99, 2.55), (8.55, 2.39), (-2.03, 2.55), (-1.48, 2.39), (-0.92, 2.47),
         (-0.36, 2.7), (-0.2, 3.6), (0.5, 3.4), (1.4, 3.55), (2.2, 4.2), (3.2, 3.8), (3.9, 4.3),
         (4.6, 4.0), (5.4, 3.6), (6.2, 3.7), (7.0, 3.4), (7.6, 2.9), (8.2, 2.2), (8.9, 1.5), (9.5, 1.3),
         (-2.4, 2.9), (-1.2, 2.8), (-0.6, 3.1), (1.8, 5.0), (3.6, 5.5), (4.9, 5.8), (0.9, 5.1),
         (-1.4, 4.6), (6.0, 4.9), (7.3, 4.5)]
E_green = [(5.85, -9.7), (4.43, -9.27), (1.45, -9.58), (0.19, -7.94), (0.33, -8.21), (3.59, -8.24),
           (3.06, -7.83), (8.75, -7.76), (6.6, -7.53), (6.8, -7.33), (2.42, -7.2), (5.21, -7.15),
           (-0.64, -7.0), (2.09, -6.97), (4.93, -6.92), (-2.45, -6.27), (-0.5, -6.32), (0.97, -6.32),
           (1.31, -6.7), (1.87, -6.62), (3.31, -6.36), (4.23, -6.02), (6.41, -5.79), (7.77, -6.06),
           (7.1, -5.3), (9.25, -5.36), (5.68, -5.53), (8.89, -4.15), (9.8, -4.3), (11.1, -4.35),
           (10.5, -4.65), (11.3, -2.38), (11.3, -1.85), (12.2, -1.39), (10.5, -1.09), (11.06, -1.12),
           (9.8, -1.7), (9.25, -2.15), (9.53, -3.14), (8.41, -3.59), (7.72, -3.97), (7.16, -4.42),
           (6.55, -4.8), (5.9, -3.97), (5.21, -4.58), (4.51, -4.12), (4.1, -4.88), (3.54, -4.42),
           (2.98, -3.97), (2.7, -4.88), (2.14, -4.42), (1.59, -5.18), (1.03, -4.73), (0.47, -4.27),
           (-0.08, -4.88), (-0.64, -4.42), (-1.2, -4.12), (-1.75, -3.67), (-2.6, -3.97), (-3.15, -4.35),
           (-3.2, -3.89), (-3.43, -3.36), (-3.7, -3.14), (-4.82, -3.14), (-4.96, -3.36), (-4.54, -2.91),
           (-2.6, -3.06), (-1.48, -3.21), (-0.36, -3.36), (0.75, -3.67), (1.87, -3.52), (2.98, -3.59),
           (4.1, -3.67), (5.21, -3.52), (6.32, -3.44), (7.16, -3.21), (7.99, -2.91), (8.55, -2.45),
           (9.1, -2.15), (9.39, -1.55), (8.83, -1.39), (8.27, -1.85), (7.44, -2.45), (6.6, -2.76),
           (5.77, -3.06), (4.65, -3.21), (3.54, -3.29), (2.42, -3.21), (1.31, -3.14), (0.19, -2.91),
           (-0.92, -2.76), (-1.48, -2.45), (1.87, -5.79), (2.98, -5.48), (4.37, -5.33), (0.19, -5.48),
           (-0.92, -5.48), (-2.03, -4.88), (-3.15, -4.88), (-3.98, -4.58), (5.21, -5.18), (6.32, -5.33),
           (7.44, -4.88), (8.0, -4.42), (8.55, -4.73), (-2.1, -3.5), (-1.0, -3.9), (0.1, -3.8),
           (1.2, -4.1), (2.4, -3.9), (3.4, -4.0), (4.6, -3.8), (5.6, -4.3), (6.8, -3.8), (8.0, -3.4),
           (9.9, -2.6), (10.3, -2.0), (-0.4, -5.8), (3.7, -6.7), (5.3, -6.1), (6.9, -6.6), (2.3, -6.0)]


def px_rect(l, t, r, b):
    return [l / W, 1 - b / H, (r - l) / W, (b - t) / H]


def halo(ax, band, color, hatch, z):
    # area of many overlapping points, shown as a dotted fill
    x, top, bot = band
    verts = list(zip(x, top)) + list(zip(x[::-1], bot[::-1]))
    ax.add_patch(Polygon(verts, closed=True, facecolor='none', edgecolor=color,
                         lw=0, hatch=hatch, zorder=z))


def dense(ax, x, edge, base, color, z):
    # fully covered part solid, its rim dotted
    x = np.asarray(x)
    edge = np.asarray(edge)
    base = np.asarray(base)
    halo(ax, (x, edge, base), color, '...', z)
    ax.fill_between(x, base, base + 0.72 * (edge - base), color=color, lw=1.0, zorder=z)


def draw_panel(ax, letter, counts, xlim, ylim, xticks, yticks, core_x, core_top, core_bot,
               streaks, black, red, green, black_halo=None, red_halo=None, green_halo=None,
               red_core=None, red_bot=None, green_core=None, green_top=None):
    # unchanged genes: fringe, dense core, low-count runs, sparse edge points
    if black_halo is not None:
        halo(ax, black_halo, BLACK, '...', 0.5)
    ax.fill_between(core_x, core_bot, core_top, color=BLACK, lw=1.2, zorder=1)
    for y, x0, x1 in streaks:
        ax.hlines(y, x0, x1, colors=BLACK, lw=2.4, zorder=1)
    b = np.array(black)
    ax.scatter(b[:, 0], b[:, 1], s=10, c=BLACK, lw=0, zorder=2)

    if red_halo is not None:
        halo(ax, red_halo, RED, '..', 2.5)
    if green_halo is not None:
        halo(ax, green_halo, GREEN, '..', 2.5)
    if red_core is not None:
        rx, rtop = red_core
        rbot = red_bot if red_bot is not None else [1.0] * len(rx)
        dense(ax, rx, rtop, rbot, RED, 3)
    if green_core is not None:
        gx, gbot = green_core
        gtop = green_top if green_top is not None else [-1.0] * len(gx)
        dense(ax, gx, gbot, gtop, GREEN, 3)
    r = np.array(red)
    g = np.array(green)
    ax.scatter(r[:, 0], r[:, 1], s=10, c=RED, lw=0, zorder=4)
    ax.scatter(g[:, 0], g[:, 1], s=10, c=GREEN, lw=0, zorder=4)

    ax.set_xlim(*xlim)
    ax.set_ylim(*ylim)
    ax.set_xticks(xticks)
    ax.set_yticks(yticks)
    ax.tick_params(direction='out', length=4, width=1, colors='#333333',
                   labelsize=10.5, pad=2)
    for sp in ax.spines.values():
        sp.set_linewidth(1.2)
        sp.set_color('#333333')
    ax.set_title('MA plot', fontsize=17, pad=4)
    ax.set_xlabel('log2(FPKM)', fontsize=15.5, labelpad=1)
    ax.set_ylabel('log2(FC)', fontsize=15.5, labelpad=2)
    ax.text(0.037, 0.955, letter, transform=ax.transAxes, fontsize=19,
            fontweight='bold', va='top', ha='left')

    handles = [Line2D([], [], marker='o', ls='', color=c, markersize=3.2, mew=0)
               for c in (RED, GREEN, BLACK)]
    labels = ['up:%d' % counts[0], 'down:%d' % counts[1], 'unchange:%d' % counts[2]]
    axw = ax.get_position().width * W
    leg = ax.legend(handles, labels, title='Significant', loc='center left',
                    bbox_to_anchor=(1 + 22 / axw, 0.5), frameon=False, fontsize=11.3,
                    title_fontproperties={'weight': 'bold', 'size': 11.5},
                    handlelength=1.9, handletextpad=0.2, labelspacing=0.75,
                    borderpad=0, borderaxespad=0)
    leg._legend_box.align = 'left'


fig = plt.figure(figsize=(W / 100, H / 100), dpi=100)

axA = fig.add_axes(px_rect(50, 31, 480, 631))
draw_panel(axA, 'A', A_counts, A_xlim, A_ylim, A_xticks, A_yticks,
           A_core_x, A_core_top, A_core_bot, A_streaks, A_black, A_red, A_green,
           black_halo=A_black_halo, red_halo=A_red_halo, green_halo=A_green_halo)

axB = fig.add_axes(px_rect(726, 31, 1156, 632))
draw_panel(axB, 'B', B_counts, B_xlim, B_ylim, B_xticks, B_yticks,
           B_core_x, B_core_top, B_core_bot, B_streaks, B_black, B_red, B_green,
           black_halo=B_black_halo, red_halo=B_red_halo, green_halo=B_green_halo)

axC = fig.add_axes(px_rect(1398, 31, 1832, 632))
draw_panel(axC, 'C', C_counts, C_xlim, C_ylim, C_xticks, C_yticks,
           C_core_x, C_core_top, C_core_bot, C_streaks, C_black, C_red, C_green,
           black_halo=C_black_halo, red_halo=C_red_halo, green_halo=C_green_halo,
           red_core=C_red_core, green_core=C_green_core)

axD = fig.add_axes(px_rect(399, 763, 822, 1364))
draw_panel(axD, 'D', D_counts, D_xlim, D_ylim, D_xticks, D_yticks,
           D_core_x, D_core_top, D_core_bot, D_streaks, D_black, D_red, D_green,
           black_halo=D_black_halo, red_halo=D_red_halo, green_halo=D_green_halo,
           red_core=D_red_core, green_core=D_green_core, green_top=D_green_top)

axE = fig.add_axes(px_rect(1079, 763, 1505, 1364))
draw_panel(axE, 'E', E_counts, E_xlim, E_ylim, E_xticks, E_yticks,
           E_core_x, E_core_top, E_core_bot, E_streaks, E_black, E_red, E_green,
           black_halo=E_black_halo, red_halo=E_red_halo, green_halo=E_green_halo,
           red_core=E_red_core, red_bot=E_red_core_bot,
           green_core=E_green_core, green_top=E_green_core_top)

fig.savefig('out.png', dpi=100)
